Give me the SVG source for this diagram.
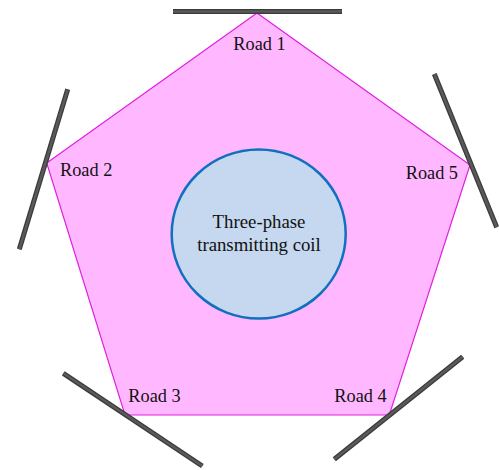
<svg xmlns="http://www.w3.org/2000/svg" width="499" height="470" viewBox="0 0 499 470">
<style>
.road{stroke:#3a3a3a;stroke-width:5;stroke-linecap:butt;fill:none}
.roadin{stroke:#5a5a5a;stroke-width:2.5;fill:none}
.lbl{font-family:"Liberation Serif","Times New Roman",serif;font-size:18.3px;fill:#111}
.coil{font-family:"Liberation Serif","Times New Roman",serif;font-size:18.8px;fill:#111;text-anchor:middle}
</style>
<rect width="499" height="470" fill="#fff"/>
<g id="pentagon">
<polygon points="257,13 470,165 389.3,415 125,415 46.7,163" fill="#ffb8ff" stroke="#e020e0" stroke-width="1.2"/>
</g>
<g id="roads">
<g id="road1-line"><line class="road" x1="173" y1="11.5" x2="342" y2="11.5"/><line class="roadin" x1="173" y1="11.5" x2="342" y2="11.5"/></g>
<g id="road2-line"><line class="road" x1="67.7" y1="89.3" x2="19.3" y2="249.3"/><line class="roadin" x1="67.7" y1="89.3" x2="19.3" y2="249.3"/></g>
<g id="road5-line"><line class="road" x1="434.3" y1="74" x2="496.7" y2="227.3"/><line class="roadin" x1="434.3" y1="74" x2="496.7" y2="227.3"/></g>
<g id="road3-line"><line class="road" x1="63.3" y1="373.3" x2="202.3" y2="466"/><line class="roadin" x1="63.3" y1="373.3" x2="202.3" y2="466"/></g>
<g id="road4-line"><line class="road" x1="462.7" y1="356.7" x2="334.3" y2="459.3"/><line class="roadin" x1="462.7" y1="356.7" x2="334.3" y2="459.3"/></g>
</g>
<g id="road-labels">
<text class="lbl" x="233.3" y="50">Road 1</text>
<text class="lbl" x="60" y="176">Road 2</text>
<text class="lbl" x="405.7" y="179">Road 5</text>
<text class="lbl" x="128.3" y="402">Road 3</text>
<text class="lbl" x="334.3" y="402">Road 4</text>
</g>
<g id="coil">
<ellipse cx="258.7" cy="234" rx="87" ry="84.5" fill="#c5d8ef" stroke="#1070c0" stroke-width="2.5"/>
<text class="coil" x="259" y="228">Three-phase</text>
<text class="coil" x="259" y="250.7">transmitting coil</text>
</g>
</svg>
